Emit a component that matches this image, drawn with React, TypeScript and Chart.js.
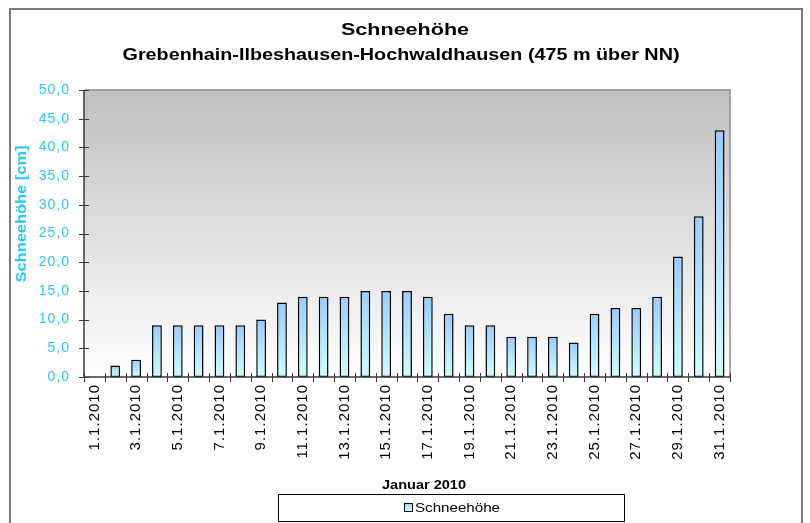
import React, { useEffect, useRef } from "react";
import { Chart, registerables } from "chart.js";

Chart.register(...registerables);

const categories: string[] = [
  "1.1.2010", "2.1.2010", "3.1.2010", "4.1.2010", "5.1.2010", "6.1.2010", "7.1.2010", "8.1.2010",
  "9.1.2010", "10.1.2010", "11.1.2010", "12.1.2010", "13.1.2010", "14.1.2010", "15.1.2010", "16.1.2010",
  "17.1.2010", "18.1.2010", "19.1.2010", "20.1.2010", "21.1.2010", "22.1.2010", "23.1.2010", "24.1.2010",
  "25.1.2010", "26.1.2010", "27.1.2010", "28.1.2010", "29.1.2010", "30.1.2010", "31.1.2010",
];

const snowDepth: number[] = [
  0, 2, 3, 9, 9, 9, 9, 9, 10, 13, 14, 14, 14, 15, 15, 15,
  14, 11, 9, 9, 7, 7, 7, 6, 11, 12, 12, 14, 21, 28, 43,
];

const seriesName = "Schneehöhe";
const titleLines = ["Schneehöhe", "Grebenhain-Ilbeshausen-Hochwaldhausen (475 m über NN)"];
const yAxisTitle = "Schneehöhe [cm]";
const xAxisTitle = "Januar 2010";
const yMin = 0;
const yMax = 50;
const yStep = 5;

const FONT = "'Liberation Sans', Arial, sans-serif";
const CYAN = "#22c8ff";
const TICK_SPACING = "1px";

function fittedText(
  ctx: CanvasRenderingContext2D,
  text: string,
  cx: number,
  cy: number,
  font: string,
  width: number,
  color: string,
  rotate = 0,
) {
  ctx.save();
  (ctx as any).letterSpacing = "0px";
  ctx.font = font;
  const w = ctx.measureText(text).width;
  ctx.translate(cx, cy);
  if (rotate) ctx.rotate(rotate);
  ctx.scale(width / w, 1);
  ctx.fillStyle = color;
  ctx.textAlign = "center";
  ctx.textBaseline = "middle";
  ctx.fillText(text, 0, 0);
  ctx.restore();
}

const decorPlugin = {
  id: "decor",
  beforeUpdate(chart: any) {
    chart.ctx.letterSpacing = TICK_SPACING;
  },
  beforeLayout(chart: any) {
    chart.ctx.letterSpacing = TICK_SPACING;
  },
  beforeDraw(chart: any) {
    const { ctx, chartArea } = chart;
    ctx.letterSpacing = TICK_SPACING;
    const { left, top, right, bottom } = chartArea;
    ctx.save();
    const g = ctx.createLinearGradient(0, top, 0, bottom);
    g.addColorStop(0, "#c0c0c0");
    g.addColorStop(1, "#ffffff");
    ctx.fillStyle = g;
    ctx.fillRect(left, top, right - left, bottom - top);
    // outer border
    ctx.strokeStyle = "#7a7a7a";
    ctx.lineWidth = 2;
    ctx.strokeRect(10, 9, 792, 600);
    ctx.restore();
  },
  afterDatasetsDraw(chart: any) {
    const { ctx, chartArea, scales } = chart;
    const { left, top, right, bottom } = chartArea;
    const ys = scales.y;
    const xs = scales.x;
    ctx.save();
    // plot border top/right
    ctx.strokeStyle = "#8c8c8c";
    ctx.lineWidth = 1.5;
    ctx.beginPath();
    ctx.moveTo(left, top);
    ctx.lineTo(right, top);
    ctx.lineTo(right, bottom);
    ctx.stroke();
    // axes
    ctx.strokeStyle = "#3a3a3a";
    ctx.lineWidth = 1.5;
    ctx.beginPath();
    ctx.moveTo(left, top);
    ctx.lineTo(left, bottom);
    ctx.lineTo(right, bottom);
    ctx.stroke();
    ctx.lineWidth = 1;
    ctx.beginPath();
    for (let v = yMin; v <= yMax; v += yStep) {
      const py = Math.round(ys.getPixelForValue(v)) + 0.5;
      ctx.moveTo(left - 5, py);
      ctx.lineTo(left + 5, py);
    }
    const n = categories.length;
    for (let i = 0; i <= n; i++) {
      const px = Math.round(xs.getPixelForValue(i - 0.5)) + 0.5;
      ctx.moveTo(px, bottom - 4);
      ctx.lineTo(px, bottom + 5);
    }
    ctx.stroke();

    // chart title
    fittedText(ctx, titleLines[0], 405, 30, `bold 17px ${FONT}`, 128, "#000");
    fittedText(ctx, titleLines[1], 401, 55, `bold 17px ${FONT}`, 557, "#000");

    // y axis title
    fittedText(ctx, yAxisTitle, 22, 214, `bold 14px ${FONT}`, 137, CYAN, -Math.PI / 2);

    // x axis title
    fittedText(ctx, xAxisTitle, 424, 485, `bold 13px ${FONT}`, 84, "#000");

    // legend
    ctx.strokeStyle = "#000";
    ctx.lineWidth = 1;
    ctx.strokeRect(278.5, 494.5, 346, 27);
    const ig = ctx.createLinearGradient(0, 503, 0, 511);
    ig.addColorStop(0, "#99ccff");
    ig.addColorStop(1, "#ccffff");
    ctx.fillStyle = ig;
    ctx.fillRect(404.5, 503.5, 8, 8);
    ctx.strokeRect(404.5, 503.5, 8, 8);
    fittedText(ctx, seriesName, 457.5, 508, `13px ${FONT}`, 85, "#000");
    ctx.restore();
  },
};

export default function App() {
  const canvasRef = useRef<HTMLCanvasElement | null>(null);

  useEffect(() => {
    const canvas = canvasRef.current;
    if (!canvas) return;
    const chart = new Chart(canvas, {
      type: "bar",
      data: {
        labels: categories,
        datasets: [
          {
            label: seriesName,
            data: snowDepth,
            backgroundColor: (c: any) => {
              const ch = c.chart;
              if (!ch.chartArea || c.type !== "data") return "#99ccff";
              const ys = ch.scales.y;
              const t = ys.getPixelForValue(c.raw);
              const b = ys.getPixelForValue(0);
              if (b - t < 1) return "#ccffff";
              const g = ch.ctx.createLinearGradient(0, t, 0, b);
              g.addColorStop(0, "#99ccff");
              g.addColorStop(1, "#ccffff");
              return g;
            },
            borderColor: "#000000",
            borderWidth: 1.5,
            borderSkipped: false,
            barPercentage: 0.47,
            categoryPercentage: 1,
          },
        ],
      },
      options: {
        responsive: false,
        animation: false,
        maintainAspectRatio: false,
        layout: { padding: { left: 10, right: 80, top: 90, bottom: 0 } },
        plugins: {
          legend: { display: false },
          tooltip: { enabled: false },
          title: { display: false },
        },
        scales: {
          x: {
            grid: { display: false, drawTicks: false },
            border: { display: false },
            ticks: {
              autoSkip: false,
              minRotation: 90,
              maxRotation: 90,
              padding: 7,
              color: "#000",
              font: { family: FONT, size: 15 },
              callback: (_v: any, i: number) => (i % 2 === 0 ? categories[i] : ""),
            },
            afterFit: (s: any) => {
              s.height = 146;
            },
          },
          y: {
            min: yMin,
            max: yMax,
            grid: { display: false, drawTicks: false },
            border: { display: false },
            ticks: {
              stepSize: yStep,
              padding: 14,
              color: CYAN,
              font: { family: FONT, size: 14 },
              callback: (v: any) => Number(v).toFixed(1).replace(".", ","),
            },
            afterFit: (s: any) => {
              s.width = 74;
            },
          },
        },
      },
      plugins: [decorPlugin],
    });
    return () => chart.destroy();
  }, []);

  return (
    <div style={{ position: "absolute", left: 0, top: 0, width: 810, height: 523, background: "#fff" }}>
      <canvas ref={canvasRef} width={810} height={523} />
    </div>
  );
}
